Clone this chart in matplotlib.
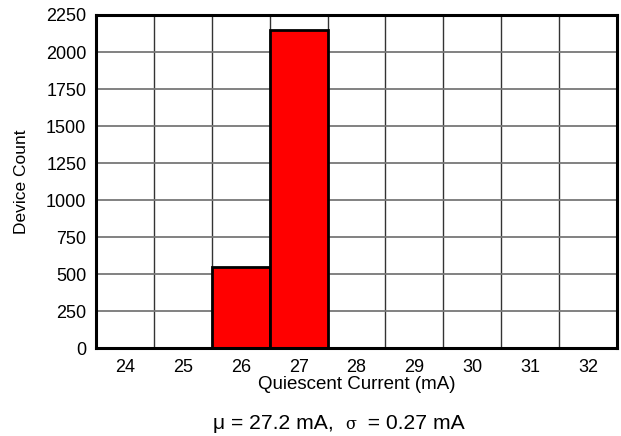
import matplotlib
matplotlib.use('Agg')
from matplotlib import pyplot as plt

categories = ['24', '25', '26', '27', '28', '29', '30', '31', '32']
counts = [0, 0, 548, 2150, 0, 0, 0, 0, 0]
yticks = [0, 250, 500, 750, 1000, 1250, 1500, 1750, 2000, 2250]

plt.rcParams['font.family'] = ['Liberation Sans', 'DejaVu Sans']

fig = plt.figure(figsize=(6.21, 4.36), dpi=100)
ax = fig.add_axes([0.1546, 0.2018, 0.839, 0.7638])

pos = list(range(len(categories)))
ax.bar(pos, counts, width=1.0, color='#ff0000', edgecolor='black', linewidth=2, zorder=3)

ax.set_xlim(-0.5, len(categories) - 0.5)
ax.set_ylim(0, 2250)
ax.set_xticks(pos)
ax.set_xticklabels(categories, fontsize=13)
ax.set_yticks(yticks)
ax.set_yticklabels([str(v) for v in yticks], fontsize=13)
ax.set_xticks([p + 0.5 for p in pos[:-1]], minor=True)
ax.tick_params(which='both', length=0)
ax.tick_params(axis='x', pad=8)
ax.tick_params(axis='y', pad=7)

ax.grid(axis='y', which='major', color='#777777', linewidth=1.3, zorder=1)
ax.grid(axis='x', which='minor', color='#333333', linewidth=1.0, zorder=1)
ax.set_axisbelow(True)

for s in ax.spines.values():
    s.set_linewidth(2.2)
    s.set_color('black')
    s.set_zorder(4)

ax.set_xlabel('Quiescent Current (mA)', fontsize=13.5, labelpad=0)
ax.set_ylabel('Device Count', fontsize=12.5, labelpad=12)

# stats line below the chart, sigma in a serif face, all on one baseline
renderer = fig.canvas.get_renderer()
x0, base = 0.343, 0.016
parts = [('μ = 27.2 mA,  ', 15.2, 'Liberation Sans'),
         ('σ', 11.5, 'DejaVu Serif'),
         ('  = 0.27 mA', 15.2, 'Liberation Sans')]
for s, size, fam in parts:
    t = fig.text(x0, base, s, fontsize=size, family=fam, ha='left', va='baseline')
    bb = t.get_window_extent(renderer)
    x0 += bb.width / fig.bbox.width

plt.savefig('out.png', dpi=100)
